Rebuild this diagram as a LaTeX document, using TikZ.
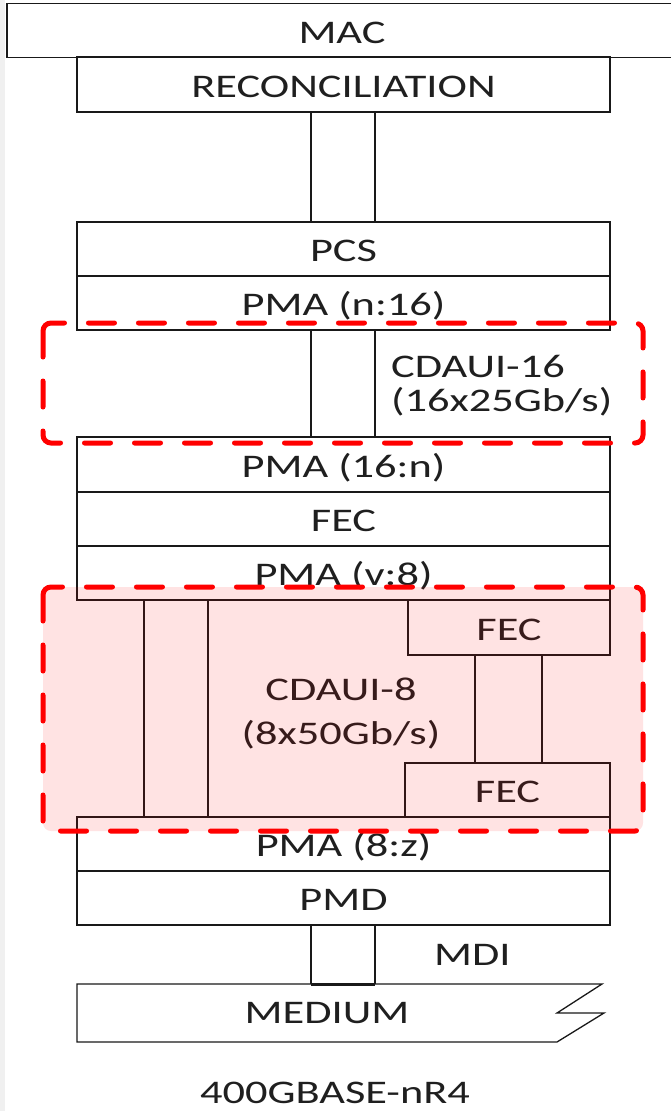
\documentclass[tikz,border=0pt]{standalone}
\usepackage{fontspec}
\setmainfont{Carlito}
\newcommand{\fsz}{\fontsize{33}{40}\selectfont}
\newcommand{\hs}[1]{\scalebox{1.345}[1]{#1}}
\begin{document}
\begin{tikzpicture}[x=1pt,y=-1pt,
  ln/.style={draw=black!90, line width=1.3pt},
  blk/.style={ln, fill=white, inner sep=0pt, text height=25pt, text depth=0pt,
              font=\fsz, text=black!88, minimum height=54pt},
  wide/.style={blk, minimum width=533pt},
  lbl/.style={font=\fsz, text=black!88, inner sep=0pt},
  reddash/.style={draw=red, line width=5pt, dash pattern=on 26pt off 24pt,
                  line cap=round, rounded corners=8pt}]
\useasboundingbox (0,0) rectangle (671,1111);
\fill[white] (0,0) rectangle (671,1111);
\fill[black!6] (0,0) rectangle (5,1111);
% stack
\node[blk, minimum width=670pt] (mac) at (342,30.5) {\hs{MAC}};
\node[wide, minimum height=55pt] (recon) at (343.5,84.5) {\hs{RECONCILIATION}};
\node[wide] (pcs) at (343.5,249) {\hs{PCS}};
\node[wide] (pman16) at (343.5,303) {\hs{PMA (n:16)}};
\node[wide, minimum height=55pt] (pma16n) at (343.5,464.5) {\hs{PMA (16:n)}};
\node[wide] (fec) at (343.5,519) {\hs{FEC}};
\node[wide] (pmav8) at (343.5,573) {\hs{PMA (v:8)}};
\node[blk, minimum width=202pt, minimum height=55pt] (fecA) at (509,627.5) {\hs{FEC}};
\node[blk, minimum width=205pt] (fecB) at (507.5,790) {\hs{FEC}};
\node[wide] (pma8z) at (343.5,844) {\hs{PMA (8:z)}};
\node[wide] (pmd) at (343.5,898) {\hs{PMD}};
% medium
\draw[ln, fill=white] (77,984) -- (602,984) -- (557,1013) -- (604,1013) -- (557,1042) -- (77,1042) -- cycle;
\coordinate (medtop) at (343.5,984);
\node[lbl, anchor=base] (medium) at (327,1023) {\hs{MEDIUM}};
% connectors
\draw[ln] ([xshift=-32.5pt]recon.south) -- ([xshift=-32.5pt]pcs.north);
\draw[ln] ([xshift=31.5pt]recon.south) -- ([xshift=31.5pt]pcs.north);
\draw[ln] ([xshift=-32.5pt]pman16.south) -- ([xshift=-32.5pt]pma16n.north);
\draw[ln] ([xshift=31.5pt]pman16.south) -- ([xshift=31.5pt]pma16n.north);
\draw[ln] ([xshift=-199.5pt]pmav8.south) -- ([xshift=-199.5pt]pma8z.north);
\draw[ln] ([xshift=-135.5pt]pmav8.south) -- ([xshift=-135.5pt]pma8z.north);
\draw[ln] ([xshift=-34pt]fecA.south) -- ([xshift=-32.5pt]fecB.north);
\draw[ln] ([xshift=33pt]fecA.south) -- ([xshift=34.5pt]fecB.north);
\draw[ln] ([xshift=-32.5pt]pmd.south) -- ([xshift=-32.5pt]medtop);
\draw[ln] ([xshift=31.5pt]pmd.south) -- ([xshift=31.5pt]medtop);
\draw[draw=black!90, line width=3pt] ([xshift=-32.5pt]medtop) -- ([xshift=31.5pt]medtop);
% labels
\node[lbl, anchor=base west] (cd16) at (391,377)
  {\hs{\fontsize{33}{34}\selectfont\begin{tabular}[t]{@{}l@{}}CDAUI-16\\(16x25Gb/s)\end{tabular}}};
\node[lbl, anchor=base] (cd8) at (341,700)
  {\hs{\fontsize{33}{44}\selectfont\begin{tabular}[t]{@{}c@{}}CDAUI-8\\(8x50Gb/s)\end{tabular}}};
\node[lbl, anchor=base west] (mdi) at (434,965) {\hs{MDI}};
\node[lbl, anchor=base] (title) at (335,1103) {\hs{400GBASE-nR4}};
% red highlight regions
\fill[red, fill opacity=0.11, rounded corners=8pt] (43,587) rectangle (643,831);
\draw[reddash] (43,323) rectangle (643,443);
\draw[reddash] (43,587) rectangle (643,831);
\end{tikzpicture}
\end{document}
